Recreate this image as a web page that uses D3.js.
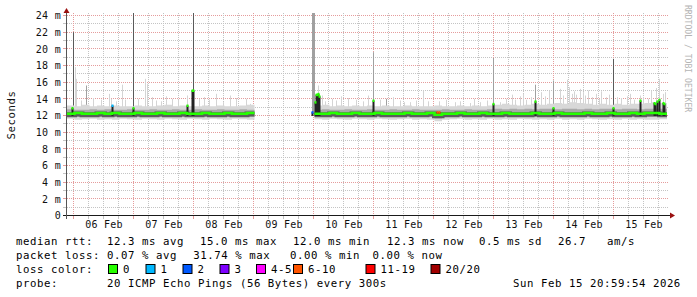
<!DOCTYPE html>
<html>
<head>
<meta charset="utf-8">
<script src="https://cdn.jsdelivr.net/npm/d3@7"></script>
<style>
html, body { margin: 0; padding: 0; background: #fff; }
svg text { font-family: "DejaVu Sans Mono", monospace; }
</style>
</head>
<body>
<div id="chart"></div>
<script>
// --- data -------------------------------------------------------------------
var rangeStart = "2026-02-05T21:24", rangeEnd = "2026-02-15T21:24";
var binHours = 3;   // one smoke bin every 3 hours

var median = [
  12.2, 12.3, 12.2, 12.2, 12.3, 12.2, 12.3, 12.2,
  12.2, 12.3, 12.2, 12.2, 12.3, 12.2, 12.2, 12.3,
  12.2, 12.2, 12.3, 12.2, 12.2, 12.3, 12.2, 12.2,
  12.3,
  null, null, null, null, null, null, null, null,
  12.2, 12.2, 12.3, 12.2, 12.2, 12.3, 12.2,
  12.2, 12.3, 12.2, 12.2, 12.2, 12.3, 12.2, 12.2,
  12.3, 12.1, 12.2, 12.2, 12.3, 12.2, 12.2, 12.3,
  12.2, 12.2, 12.3, 12.2, 12.2, 12.2, 12.3, 12.2,
  12.2, 12.3, 12.2, 12.2, 12.2, 12.3, 12.2, 12.2,
  12.3, 12.2, 12.2, 12.3, 12.2, 12.3, 12.3, 12.2
];
var pingLow = [
  11.6, 11.5, 11.55, 11.6, 11.5, 11.55, 11.5, 11.6,
  11.55, 11.5, 11.6, 11.55, 11.5, 11.6, 11.55, 11.5,
  11.6, 11.55, 11.5, 11.6, 11.55, 11.5, 11.6, 11.55,
  11.5,
  null, null, null, null, null, null, null, null,
  11.55, 11.5, 11.6, 11.55, 11.5, 11.6, 11.55,
  11.5, 11.6, 11.55, 11.5, 11.55, 11.6, 11.5, 11.55,
  11.5, 11.3, 11.5, 11.55, 11.6, 11.5, 11.55, 11.5,
  11.6, 11.5, 11.55, 11.5, 11.6, 11.55, 11.5, 11.55,
  11.5, 11.6, 11.5, 11.55, 11.5, 11.6, 11.55, 11.5,
  11.55, 11.5, 11.6, 11.5, 11.55, 11.5, 11.5, 11.55
];
var pingQ1 = [
  11.9, 11.85, 11.85, 11.9, 11.85, 11.9, 11.85, 11.9,
  11.85, 11.85, 11.9, 11.85, 11.85, 11.9, 11.85, 11.85,
  11.9, 11.85, 11.85, 11.9, 11.85, 11.85, 11.9, 11.85,
  11.85,
  null, null, null, null, null, null, null, null,
  11.85, 11.85, 11.9, 11.85, 11.85, 11.9, 11.85,
  11.85, 11.9, 11.85, 11.85, 11.85, 11.9, 11.85, 11.85,
  11.85, 11.65, 11.85, 11.85, 11.9, 11.85, 11.85, 11.85,
  11.9, 11.85, 11.85, 11.85, 11.9, 11.85, 11.85, 11.85,
  11.85, 11.9, 11.85, 11.85, 11.85, 11.9, 11.85, 11.85,
  11.85, 11.85, 11.9, 11.85, 11.85, 11.85, 11.85, 11.85
];
var pingQ3 = [
  12.75, 12.7, 12.7, 12.75, 12.7, 12.75, 12.7, 12.7,
  12.75, 12.7, 12.7, 12.75, 12.7, 12.7, 12.75, 12.7,
  12.7, 12.75, 12.7, 12.7, 12.75, 12.7, 12.7, 12.75,
  12.7,
  null, null, null, null, null, null, null, null,
  12.7, 12.75, 12.7, 12.7, 12.75, 12.7, 12.7,
  12.75, 12.7, 12.7, 12.75, 12.7, 12.7, 12.75, 12.7,
  12.7, 12.7, 12.75, 12.7, 12.7, 12.75, 12.7, 12.7,
  12.75, 12.8, 12.75, 12.8, 12.75, 12.8, 12.75, 12.8,
  12.8, 12.75, 12.8, 12.8, 12.75, 12.8, 12.75, 12.8,
  12.8, 12.75, 12.8, 12.8, 12.75, 12.8, 12.8, 12.8
];
var pingHigh = [
  13.2, 13.1, 13.3, 13.1, 13.2, 13.1, 13.2, 13.1,
  13.1, 13.2, 13.1, 13.1, 13.2, 13.3, 13.1, 13.2,
  13.1, 13.1, 13.2, 13.1, 13.2, 13.1, 13.1, 13.2,
  13.3,
  null, null, null, null, null, null, null, null,
  13.2, 13.3, 13.1, 13.2, 13.1, 13.2, 13.1,
  13.2, 13.1, 13.2, 13.1, 13.1, 13.2, 13.1, 13.1,
  13.1, 13.2, 13.1, 13.1, 13.2, 13.1, 13.2, 13.1,
  13.2, 13.3, 13.4, 13.3, 13.2, 13.3, 13.4, 13.3,
  13.4, 13.5, 13.4, 13.6, 13.5, 13.4, 13.3, 13.4,
  13.3, 13.4, 13.3, 13.4, 13.4, 13.5, 13.6, 13.5
];

// single-step smoke outliers: [time, highest ping ms, shade 0 light .. 2 dark]
var spikes = [
  ["2026-02-06T00:00", 22.0, 2], ["2026-02-06T00:36", 17.8, 0], ["2026-02-06T01:12", 16.4, 0],
  ["2026-02-06T03:00", 13.8, 0], ["2026-02-06T05:17", 15.6, 1], ["2026-02-06T08:00", 14.1, 0],
  ["2026-02-06T11:00", 13.9, 0], ["2026-02-06T14:12", 14.6, 0], ["2026-02-06T15:00", 14.0, 0],
  ["2026-02-06T17:00", 13.7, 0], ["2026-02-06T19:24", 15.7, 0], ["2026-02-06T21:00", 13.9, 0],
  ["2026-02-07T00:00", 26.0, 2], ["2026-02-07T02:00", 14.0, 0], ["2026-02-07T04:36", 16.4, 0],
  ["2026-02-07T05:24", 15.8, 0], ["2026-02-07T07:30", 14.2, 0], ["2026-02-07T09:00", 13.8, 0],
  ["2026-02-07T11:00", 13.7, 0], ["2026-02-07T13:17", 14.3, 0], ["2026-02-07T15:24", 14.0, 0],
  ["2026-02-07T18:00", 13.9, 0], ["2026-02-07T21:24", 14.4, 0],
  ["2026-02-08T00:00", 26.0, 2], ["2026-02-08T02:12", 14.0, 0], ["2026-02-08T04:12", 14.2, 0],
  ["2026-02-08T06:30", 13.9, 0], ["2026-02-08T09:17", 14.6, 0], ["2026-02-08T12:00", 13.6, 0],
  ["2026-02-08T14:36", 14.4, 0], ["2026-02-08T17:00", 14.1, 0], ["2026-02-08T21:00", 14.0, 0],
  ["2026-02-08T22:36", 13.4, 0],
  ["2026-02-09T23:24", 26.0, 1], ["2026-02-09T23:48", 26.0, 1], ["2026-02-10T00:12", 26.0, 1],
  ["2026-02-10T01:48", 15.6, 0], ["2026-02-10T03:36", 14.4, 0], ["2026-02-10T05:00", 13.7, 0],
  ["2026-02-10T07:24", 14.0, 0], ["2026-02-10T09:00", 13.8, 0], ["2026-02-10T11:17", 14.3, 0],
  ["2026-02-10T14:00", 14.1, 0], ["2026-02-10T17:17", 13.9, 0], ["2026-02-10T20:00", 13.7, 0],
  ["2026-02-10T21:48", 14.4, 0],
  ["2026-02-11T00:00", 19.6, 1], ["2026-02-11T02:48", 13.9, 0], ["2026-02-11T05:17", 14.0, 1],
  ["2026-02-11T08:00", 14.2, 0], ["2026-02-11T10:36", 13.8, 0], ["2026-02-11T12:30", 13.6, 0],
  ["2026-02-11T14:36", 13.6, 0], ["2026-02-11T17:00", 13.8, 0], ["2026-02-11T19:55", 15.0, 0],
  ["2026-02-11T22:00", 13.7, 0],
  ["2026-02-12T02:12", 13.7, 0], ["2026-02-12T05:00", 13.9, 0], ["2026-02-12T08:36", 13.6, 0],
  ["2026-02-12T11:00", 13.7, 0], ["2026-02-12T14:36", 13.5, 0], ["2026-02-12T16:30", 14.0, 0],
  ["2026-02-12T18:36", 13.6, 0], ["2026-02-12T21:30", 13.8, 0],
  ["2026-02-13T00:00", 18.9, 1], ["2026-02-13T02:36", 13.6, 0], ["2026-02-13T05:00", 14.0, 0],
  ["2026-02-13T07:24", 14.5, 0], ["2026-02-13T08:48", 13.9, 0], ["2026-02-13T10:36", 14.3, 0],
  ["2026-02-13T12:00", 14.6, 0], ["2026-02-13T13:00", 13.9, 0], ["2026-02-13T15:00", 14.2, 0],
  ["2026-02-13T16:36", 15.7, 1], ["2026-02-13T19:00", 14.8, 0], ["2026-02-13T20:36", 14.3, 0],
  ["2026-02-13T22:12", 15.0, 0],
  ["2026-02-14T00:00", 16.2, 1], ["2026-02-14T02:36", 15.2, 0], ["2026-02-14T04:00", 14.4, 0],
  ["2026-02-14T05:24", 16.3, 0], ["2026-02-14T06:24", 15.4, 0], ["2026-02-14T07:24", 14.6, 0],
  ["2026-02-14T08:24", 14.9, 0], ["2026-02-14T09:24", 14.5, 0], ["2026-02-14T10:36", 15.2, 0],
  ["2026-02-14T11:48", 14.8, 0], ["2026-02-14T12:48", 14.4, 0], ["2026-02-14T13:48", 15.0, 0],
  ["2026-02-14T15:24", 14.2, 0], ["2026-02-14T17:00", 14.6, 0], ["2026-02-14T18:12", 14.0, 0],
  ["2026-02-14T19:17", 14.9, 0], ["2026-02-14T21:00", 14.2, 0], ["2026-02-14T22:24", 14.5, 0],
  ["2026-02-15T00:00", 18.8, 2], ["2026-02-15T01:36", 14.2, 0], ["2026-02-15T03:00", 14.1, 0],
  ["2026-02-15T05:24", 14.3, 0], ["2026-02-15T06:36", 14.6, 0], ["2026-02-15T08:12", 13.9, 0],
  ["2026-02-15T10:48", 14.4, 0], ["2026-02-15T12:00", 14.2, 0], ["2026-02-15T14:00", 14.0, 0],
  ["2026-02-15T15:24", 15.0, 0], ["2026-02-15T17:00", 15.3, 0], ["2026-02-15T18:24", 16.4, 0],
  ["2026-02-15T19:48", 14.6, 0], ["2026-02-15T20:36", 14.8, 0]
];

// short median excursions: [time, median ms, loss class index]
var bursts = [
  ["2026-02-05T23:36", 12.9, 0], ["2026-02-06T15:24", 13.2, 1], ["2026-02-06T23:48", 12.9, 0],
  ["2026-02-07T21:24", 13.2, 0], ["2026-02-07T23:36", 15.0, 0], ["2026-02-08T00:00", 15.0, 0],
  ["2026-02-09T23:24", 12.4, 2], ["2026-02-10T00:36", 13.6, 0], ["2026-02-10T01:00", 14.5, 0],
  ["2026-02-10T01:24", 14.5, 0], ["2026-02-10T01:48", 14.6, 0], ["2026-02-10T02:12", 14.3, 0],
  ["2026-02-10T23:48", 13.8, 0], ["2026-02-12T01:48", 12.4, 5], ["2026-02-12T02:12", 12.4, 5],
  ["2026-02-12T23:48", 13.4, 0], ["2026-02-13T16:36", 13.7, 0], ["2026-02-13T23:48", 12.9, 0],
  ["2026-02-14T23:48", 12.9, 0], ["2026-02-15T10:48", 13.8, 0], ["2026-02-15T16:12", 13.5, 0],
  ["2026-02-15T16:36", 13.4, 0], ["2026-02-15T17:36", 13.7, 0], ["2026-02-15T18:24", 13.9, 0],
  ["2026-02-15T19:48", 13.5, 0], ["2026-02-15T20:12", 13.4, 0]
];

var lossLabels = ["0", "1", "2", "3", "4-5", "6-10", "11-19", "20/20"];
var lossColors = ["#26ff00", "#00b8ff", "#0059ff", "#7e00ff", "#ff00ff", "#ff5500", "#ff0000", "#a10000"];

var yTickValues = [0, 2, 4, 6, 8, 10, 12, 14, 16, 18, 20, 22, 24];
var dayLabels = ["06 Feb", "07 Feb", "08 Feb", "09 Feb", "10 Feb", "11 Feb", "12 Feb", "13 Feb", "14 Feb", "15 Feb"];

var rttStats = ["12.3 ms avg", "15.0 ms max", "12.0 ms min", "12.3 ms now", "0.5 ms sd", "26.7", "am/s"];
var lossStats = ["0.07 % avg", "31.74 % max", "0.00 % min", "0.00 % now"];
var probeText = "20 ICMP Echo Pings (56 Bytes) every 300s";
var stampText = "Sun Feb 15 20:59:54 2026";

// --- layout -----------------------------------------------------------------
var W = 697, H = 297;
var plot = { left: 67, right: 667, top: 13, bottom: 215 };
var majorGrid = "#e59c9c", minorGrid = "#c4c4c4", axisColor = "#1a1a1a", arrowColor = "#9a1010";
var shade = ["#d4d4d4", "#a0a0a0", "#5a5a5a"];

var parse = d3.timeParse("%Y-%m-%dT%H:%M");
var t0 = parse(rangeStart), t1 = parse(rangeEnd);

var x = d3.scaleTime().domain([t0, t1]).range([plot.left, plot.right]);
var y = d3.scaleLinear().domain([0, 24]).range([215.5, 15.5]);
var crisp = function (v) { return Math.floor(v) + 0.5; };

var svg = d3.select("#chart").append("svg")
  .attr("width", W).attr("height", H);
svg.append("rect").attr("width", W).attr("height", H).attr("fill", "#fff");

svg.append("defs").append("clipPath").attr("id", "plotClip")
  .append("rect")
  .attr("x", plot.left).attr("y", plot.top)
  .attr("width", plot.right - plot.left + 1).attr("height", plot.bottom - plot.top);

// grid
var hGrid = d3.range(1, 25);
var grid = svg.append("g").attr("class", "grid");
grid.selectAll("line.h").data(hGrid).join("line")
  .attr("class", "h")
  .attr("x1", plot.left).attr("x2", plot.right + 1)
  .attr("y1", function (d) { return crisp(y(d)); })
  .attr("y2", function (d) { return crisp(y(d)); })
  .attr("stroke", function (d) { return d % 2 === 0 ? majorGrid : minorGrid; })
  .attr("stroke-dasharray", "1,1");
grid.selectAll("line.ht").data(hGrid).join("line")
  .attr("class", "ht")
  .attr("x1", 63).attr("x2", 66)
  .attr("y1", function (d) { return crisp(y(d)); })
  .attr("y2", function (d) { return crisp(y(d)); })
  .attr("stroke", function (d) { return d % 2 === 0 ? majorGrid : minorGrid; });

var vGrid = d3.timeHour.every(6).range(parse("2026-02-06T00:00"), t1);
grid.selectAll("line.v").data(vGrid).join("line")
  .attr("class", "v")
  .attr("x1", function (d) { return crisp(x(d)); })
  .attr("x2", function (d) { return crisp(x(d)); })
  .attr("y1", plot.top).attr("y2", plot.bottom)
  .attr("stroke", function (d) { return d.getHours() === 0 ? majorGrid : minorGrid; })
  .attr("stroke-dasharray", "1,1");
grid.selectAll("line.vt").data(vGrid).join("line")
  .attr("class", "vt")
  .attr("x1", function (d) { return crisp(x(d)); })
  .attr("x2", function (d) { return crisp(x(d)); })
  .attr("y1", 216).attr("y2", 219)
  .attr("stroke", function (d) { return d.getHours() === 0 ? majorGrid : minorGrid; });

// smoke bins as step points
var pts = [];
median.forEach(function (m, i) {
  var a = d3.timeHour.offset(t0, i * binHours), b = d3.timeHour.offset(t0, (i + 1) * binHours);
  var row = { med: m, lo: pingLow[i], q1: pingQ1[i], q3: pingQ3[i], hi: pingHigh[i] };
  pts.push(Object.assign({ t: a }, row));
  pts.push(Object.assign({ t: b }, row));
});
var ok = function (d) { return d.med != null; };

var data = svg.append("g").attr("clip-path", "url(#plotClip)");

// outliers
data.append("g").selectAll("rect").data(spikes).join("rect")
  .attr("x", function (d) { return Math.floor(x(parse(d[0]))); })
  .attr("width", 1)
  .attr("y", function (d) { return y(d[1]); })
  .attr("height", function (d) { return y(12.4) - y(d[1]); })
  .attr("fill", function (d) { return shade[d[2]]; });

data.append("path").datum(pts)
  .attr("fill", "#d8d8d8")
  .attr("d", d3.area().defined(ok).x(function (d) { return x(d.t); })
    .y0(function (d) { return y(d.lo); }).y1(function (d) { return y(d.hi); }));

data.append("path").datum(pts)
  .attr("fill", "#a9a9a9")
  .attr("d", d3.area().defined(ok).x(function (d) { return x(d.t); })
    .y0(function (d) { return y(d.q1); }).y1(function (d) { return y(d.q3); }));

var medLine = d3.line().defined(ok)
  .x(function (d) { return x(d.t); })
  .y(function (d) { return y(d.med); });

data.append("path").datum(pts)
  .attr("fill", "none").attr("stroke", "#5c5c5c").attr("stroke-width", 5)
  .attr("transform", "translate(0,1)")
  .attr("d", medLine);

// dark bars under median excursions
data.append("g").selectAll("rect").data(bursts).join("rect")
  .attr("x", function (d) { return Math.floor(x(parse(d[0]))) - 0.5; })
  .attr("width", 2)
  .attr("y", function (d) { return y(d[1]); })
  .attr("height", function (d) { return y(11.95) - y(d[1]); })
  .attr("fill", "#222");

data.append("path").datum(pts)
  .attr("fill", "none").attr("stroke", lossColors[0]).attr("stroke-width", 2.5)
  .attr("d", medLine);

data.append("g").selectAll("rect").data(bursts).join("rect")
  .attr("x", function (d) { return Math.floor(x(parse(d[0]))) - 0.5; })
  .attr("width", 2)
  .attr("y", function (d) { return y(d[1]) - 1; })
  .attr("height", 2.5)
  .attr("fill", function (d) { return lossColors[d[2]]; });

// axes
var yAxis = d3.axisLeft(y).tickValues(yTickValues).tickSize(0).tickPadding(6)
  .tickFormat(function (d) { return d === 0 ? "0" : d + " m"; });
var gy = svg.append("g").attr("transform", "translate(" + plot.left + ",0)").call(yAxis);
gy.select(".domain").remove();
gy.selectAll("text").attr("font-size", 10).attr("letter-spacing", 0.3)
  .attr("fill", "#111").attr("font-family", "DejaVu Sans Mono");

var noon = dayLabels.map(function (d, i) { return d3.timeHour.offset(parse("2026-02-06T12:00"), 24 * i); });
svg.append("g").selectAll("text").data(dayLabels).join("text")
  .attr("x", function (d, i) { return x(noon[i]) + 0.5; })
  .attr("y", 228)
  .attr("text-anchor", "middle")
  .attr("font-size", 10).attr("letter-spacing", 0.2)
  .attr("fill", "#111")
  .text(function (d) { return d; });

svg.append("line")
  .attr("x1", 63).attr("x2", 670).attr("y1", 215.5).attr("y2", 215.5)
  .attr("stroke", axisColor);
svg.append("line")
  .attr("x1", 66.5).attr("x2", 66.5).attr("y1", 219).attr("y2", 11)
  .attr("stroke", "#555");
svg.append("path").attr("d", "M670,212.5L675,215.5L670,218.5Z").attr("fill", arrowColor);
svg.append("path").attr("d", "M63.5,13L66.5,8L69.5,13Z").attr("fill", arrowColor);

svg.append("text")
  .attr("transform", "translate(15,115) rotate(-90)")
  .attr("text-anchor", "middle")
  .attr("font-size", 10.7).attr("letter-spacing", 0.56)
  .attr("fill", "#111")
  .text("Seconds");

svg.append("text")
  .attr("transform", "translate(685,5) rotate(90)")
  .attr("font-size", 8.1)
  .attr("fill", "#b4b4b4")
  .text("RRDTOOL / TOBI OETIKER");

// legend
var legendFont = function (sel) {
  sel.attr("font-size", 10.7).attr("letter-spacing", 0.56).attr("fill", "#000")
    .attr("xml:space", "preserve");
};
var rttX = [107, 200, 293, 387, 479, 558, 607];
var lossX = [107, 193.3, 290, 372.5];
var boxX = [108, 145.5, 182.5, 219.5, 256, 293, 365.5, 430.5];
var rowY = [245, 259, 273, 287];

var leg = svg.append("g");
leg.append("text").attr("x", 16).attr("y", rowY[0]).call(legendFont).text("median rtt:");
leg.selectAll("text.rtt").data(rttStats).join("text").attr("class", "rtt")
  .attr("x", function (d, i) { return rttX[i]; }).attr("y", rowY[0]).call(legendFont)
  .text(function (d) { return d; });

leg.append("text").attr("x", 16).attr("y", rowY[1]).call(legendFont).text("packet loss:");
leg.selectAll("text.loss").data(lossStats).join("text").attr("class", "loss")
  .attr("x", function (d, i) { return lossX[i]; }).attr("y", rowY[1]).call(legendFont)
  .text(function (d) { return d; });

leg.append("text").attr("x", 16).attr("y", rowY[2]).call(legendFont).text("loss color:");
leg.selectAll("rect.box").data(lossLabels).join("rect").attr("class", "box")
  .attr("x", function (d, i) { return boxX[i] + 0.5; }).attr("y", 264.5)
  .attr("width", 9).attr("height", 9)
  .attr("fill", function (d, i) { return lossColors[i]; })
  .attr("stroke", "#000");
leg.selectAll("text.lc").data(lossLabels).join("text").attr("class", "lc")
  .attr("x", function (d, i) { return boxX[i] + 15; }).attr("y", rowY[2]).call(legendFont)
  .text(function (d) { return d; });

leg.append("text").attr("x", 16).attr("y", rowY[3]).call(legendFont).text("probe:");
leg.append("text").attr("x", 107).attr("y", rowY[3]).call(legendFont).text(probeText);
leg.append("text").attr("x", 513).attr("y", rowY[3]).call(legendFont).text(stampText);
</script>
</body>
</html>
